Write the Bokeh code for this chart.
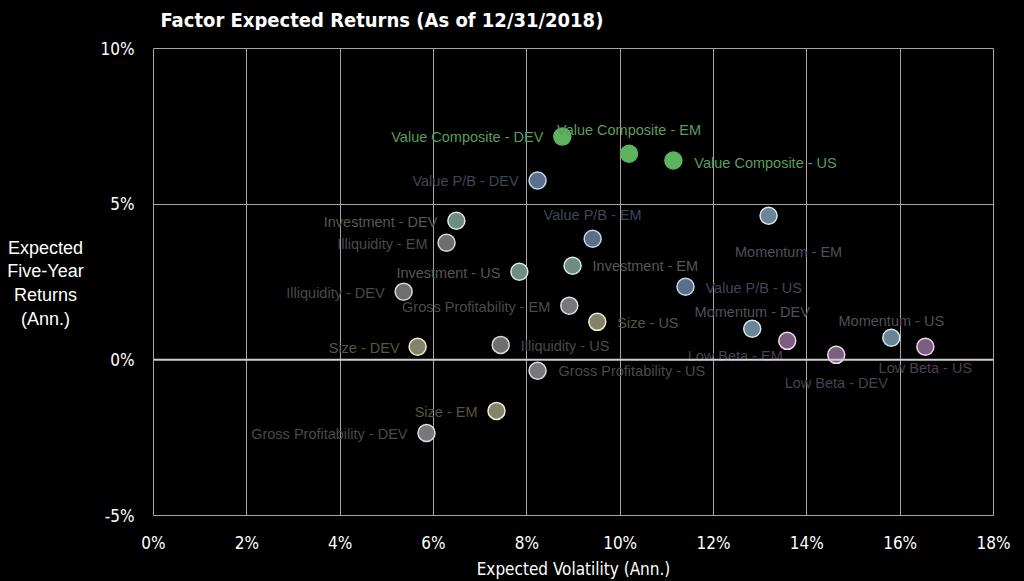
from bokeh.plotting import figure
from bokeh.layouts import column, row
from bokeh.models import Range1d, FixedTicker, NumeralTickFormatter, ColumnDataSource, Span
from bokeh.embed import file_html
from bokeh.resources import INLINE
from bokeh.core.properties import value

# ---- data (fractions) ----
labels = [
    "Value Composite - DEV", "Value Composite - EM", "Value Composite - US",
    "Value P/B - DEV", "Value P/B - EM", "Value P/B - US",
    "Investment - DEV", "Illiquidity - EM", "Investment - US", "Investment - EM",
    "Illiquidity - DEV", "Gross Profitability - EM", "Size - US", "Size - DEV",
    "Illiquidity - US", "Gross Profitability - US", "Size - EM", "Gross Profitability - DEV",
    "Momentum - EM", "Momentum - DEV", "Low Beta - EM", "Low Beta - DEV",
    "Momentum - US", "Low Beta - US",
]
factors = [
    "Value Composite", "Value Composite", "Value Composite",
    "Value P/B", "Value P/B", "Value P/B",
    "Investment", "Illiquidity", "Investment", "Investment",
    "Illiquidity", "Gross Profitability", "Size", "Size",
    "Illiquidity", "Gross Profitability", "Size", "Gross Profitability",
    "Momentum", "Momentum", "Low Beta", "Low Beta",
    "Momentum", "Low Beta",
]
volatility = [0.0876, 0.1019, 0.1114, 0.0823, 0.0941, 0.1140,
              0.0649, 0.0628, 0.0784, 0.0898, 0.0536, 0.0891,
              0.0951, 0.0566, 0.0744, 0.0823, 0.0735, 0.0585,
              0.1318, 0.1283, 0.1358, 0.1463, 0.1581, 0.1654]
expected_return = [0.0717, 0.0662, 0.0640, 0.0576, 0.0389, 0.0235,
                   0.0447, 0.0376, 0.0283, 0.0302, 0.0219, 0.0174,
                   0.0122, 0.0042, 0.0048, -0.0035, -0.0164, -0.0235,
                   0.0463, 0.0100, 0.0061, 0.0016, 0.0071, 0.0042]
x_ticks = [0, 0.02, 0.04, 0.06, 0.08, 0.10, 0.12, 0.14, 0.16, 0.18]
y_ticks = [-0.05, 0, 0.05, 0.10]
title_text = "Factor Expected Returns (As of 12/31/2018)"
x_title = "Expected Volatility (Ann.)"
y_title = "Expected\nFive-Year\nReturns\n(Ann.)"

# ---- styles ----
fill_colors = {
    "Value Composite": "#5db35e", "Value P/B": "#5a6f8c", "Investment": "#6e8c80",
    "Illiquidity": "#6e6e6e", "Gross Profitability": "#77777d", "Size": "#85826a",
    "Momentum": "#6a8596", "Low Beta": "#7a5f80",
}
line_colors = {
    "Value Composite": "#5db35e", "Value P/B": "#c8d8e8", "Investment": "#d8ece0",
    "Illiquidity": "#d8d8d8", "Gross Profitability": "#e0e0e0", "Size": "#f0eed0",
    "Momentum": "#d8e8f0", "Low Beta": "#f0d8f0",
}
label_colors = {
    "Value Composite": "#5a9e5b", "Value P/B": "#3c4859", "Investment": "#505b56",
    "Illiquidity": "#4a4a4a", "Gross Profitability": "#4a4a4a", "Size": "#5a5540",
    "Momentum": "#4c5258", "Low Beta": "#4e3f52",
}
# label placement: (align, dx, dy) in screen pixels (dy positive = down)
label_layout = {
    "Value Composite - DEV": ("right", -19, 0), "Value Composite - EM": ("center", 0, -24),
    "Value Composite - US": ("left", 21, 2), "Value P/B - DEV": ("right", -19, 0),
    "Value P/B - EM": ("center", 0, -24), "Value P/B - US": ("left", 20, 1),
    "Investment - DEV": ("right", -19, 1), "Illiquidity - EM": ("right", -19, 1),
    "Investment - US": ("right", -19, 1), "Investment - EM": ("left", 20, 0),
    "Illiquidity - DEV": ("right", -19, 1), "Gross Profitability - EM": ("right", -19, 1),
    "Size - US": ("left", 20, 1), "Size - DEV": ("right", -18, 1),
    "Illiquidity - US": ("left", 20, 1), "Gross Profitability - US": ("left", 21, 0),
    "Size - EM": ("right", -19, 1), "Gross Profitability - DEV": ("right", -19, 1),
    "Momentum - EM": ("center", 20, 36), "Momentum - DEV": ("center", 0, -17),
    "Low Beta - EM": ("center", -52, 15), "Low Beta - DEV": ("center", 0, 28),
    "Momentum - US": ("center", 0, -17), "Low Beta - US": ("center", 0, 21),
}

src = ColumnDataSource(dict(
    x=volatility, y=expected_return, label=labels,
    fill=[fill_colors[f] for f in factors],
    line=[line_colors[f] for f in factors],
    tcol=[label_colors[f] for f in factors],
    align=[label_layout[l][0] for l in labels],
    dx=[label_layout[l][1] for l in labels],
    dy=[label_layout[l][2] for l in labels],
))

W, H = 1024, 581
TITLE_H = 30          # height of the title strip
YT_W = 90             # width of the y-title strip
FRAME_TOP = 48        # page y of the plot frame's top edge
cond = "DejaVu Sans Condensed"


def blank(width, height):
    f = figure(width=width, height=height, output_backend="svg", toolbar_location=None,
               x_range=Range1d(0, width), y_range=Range1d(height, 0),
               min_border=0, min_border_left=0, min_border_right=0,
               min_border_top=0, min_border_bottom=0,
               background_fill_color="black", border_fill_color="black",
               outline_line_color=None, title=None)
    f.axis.visible = False
    f.grid.visible = False
    return f


# title strip
title_fig = blank(W, TITLE_H)
title_fig.text(x=[160], y=[19], text=[title_text], text_align="left", text_baseline="middle",
               text_color="white", text_font=value(cond), text_font_style="bold",
               text_font_size="20px")

# y-title strip
ytitle_fig = blank(YT_W, H - TITLE_H)
ytitle_fig.text(x=[45], y=[283 + 24 - TITLE_H], text=[y_title], text_align="center",
                text_baseline="middle", text_color="white",
                text_font=value("Liberation Sans"), text_font_size="18px", text_line_height=1.19)

# main chart
p = figure(width=W - YT_W, height=H - TITLE_H, output_backend="svg", toolbar_location=None,
           x_range=Range1d(0, 0.18), y_range=Range1d(-0.05, 0.10), title=None,
           min_border_left=153 - YT_W, min_border_right=31,
           min_border_top=FRAME_TOP - TITLE_H, min_border_bottom=66,
           background_fill_color="black", border_fill_color="black",
           outline_line_color="#a6a6a6", outline_line_width=1)

for ax in (p.xaxis[0], p.yaxis[0]):
    ax.axis_line_color = None
    ax.major_tick_line_color = None
    ax.minor_tick_line_color = None
    ax.major_tick_out = 0
    ax.major_tick_in = 0
    ax.minor_tick_out = 0
    ax.minor_tick_in = 0
    ax.major_label_text_color = "white"
    ax.major_label_text_font = cond
    ax.major_label_text_font_size = "17px"
    ax.axis_label_text_color = "white"
    ax.axis_label_text_font_style = "normal"
    ax.formatter = NumeralTickFormatter(format="0%")

p.xaxis.ticker = FixedTicker(ticks=x_ticks)
p.yaxis.ticker = FixedTicker(ticks=y_ticks)
p.xaxis.major_label_standoff = 17
p.yaxis.major_label_standoff = 19

p.xaxis.axis_label = x_title
p.xaxis.axis_label_text_font = cond
p.xaxis.axis_label_text_font_size = "17px"
p.xaxis.axis_label_standoff = 3

p.grid.grid_line_color = "#a6a6a6"
p.grid.grid_line_width = 1
p.add_layout(Span(location=0, dimension="width", line_color="#d0d0d0", line_width=2))

p.scatter("x", "y", source=src, size=17, fill_color="fill", line_color="line", line_width=1.5)
p.text("x", "y", text="label", source=src, x_offset="dx", y_offset="dy",
       text_align="align", text_baseline="middle", text_color="tcol",
       text_font=value("Liberation Sans"), text_font_size="14.5px")

layout = column(title_fig, row(ytitle_fig, p, spacing=0), spacing=0)

html = file_html(layout, INLINE)
html = html.replace("<body>", '<body style="background:black;">')
open("out.html", "w").write(html)
